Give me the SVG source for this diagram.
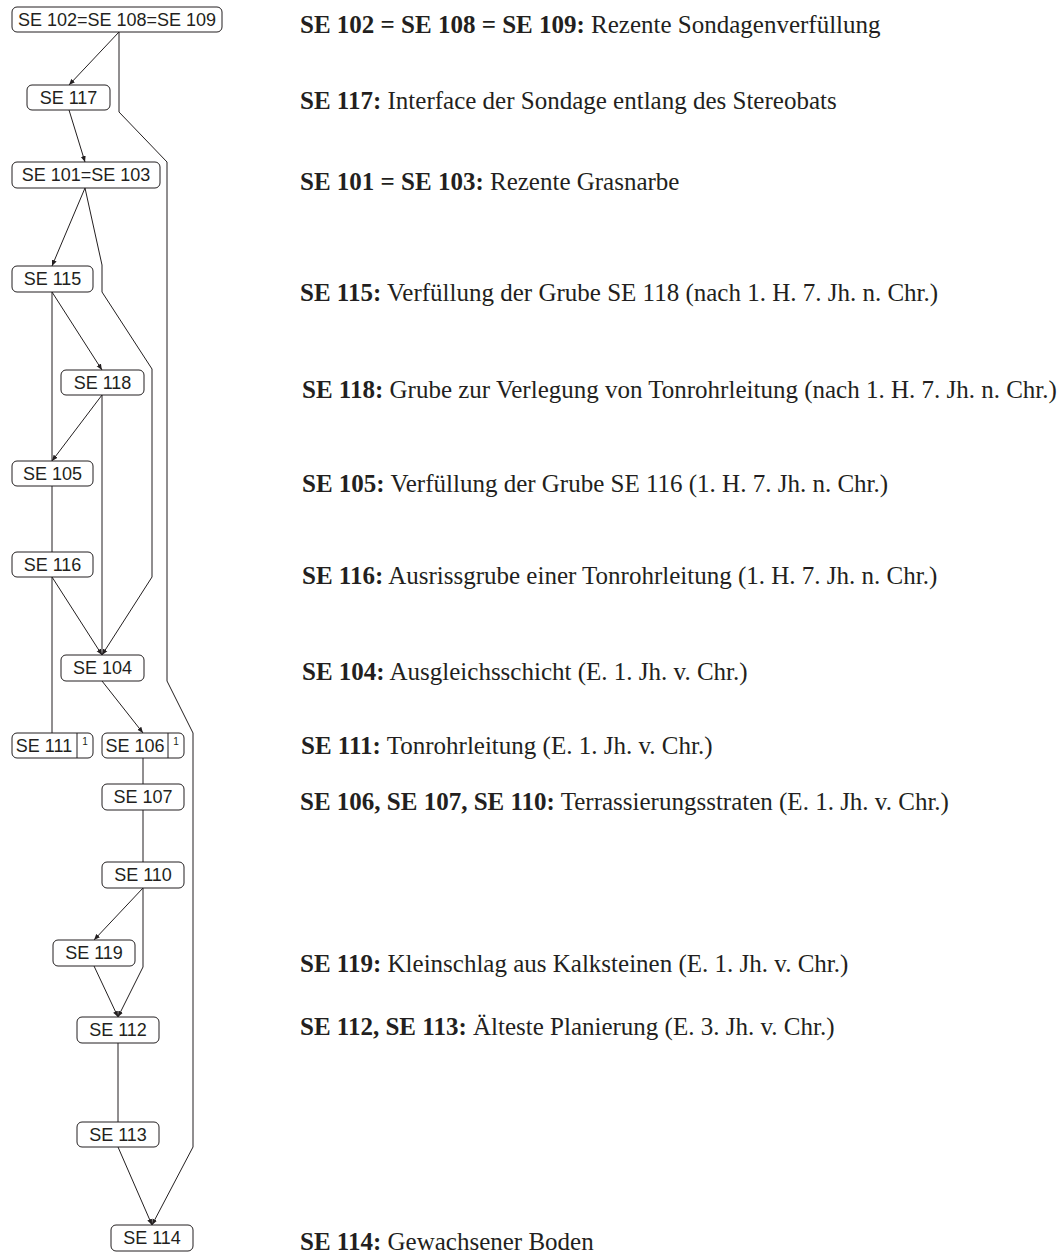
<svg xmlns="http://www.w3.org/2000/svg" width="1061" height="1254" viewBox="0 0 1061 1254">
<style>
.box{fill:#fff;stroke:#231f20;stroke-width:1}
.lbl{font-family:"Liberation Sans",Arial,sans-serif;font-size:18px;fill:#231f20;text-anchor:middle}
.sup{font-family:"Liberation Sans",Arial,sans-serif;font-size:10px;fill:#231f20;text-anchor:middle}
.div{stroke:#231f20;stroke-width:1}
.edge{fill:none;stroke:#231f20;stroke-width:1}
.desc{font-family:"Liberation Serif","Times New Roman",serif;font-size:25px;fill:#231f20}
.b{font-weight:bold}
</style>
<defs>
<marker id="arr" markerWidth="6" markerHeight="6" refX="6" refY="3" orient="auto" markerUnits="userSpaceOnUse">
<path d="M0,0.5 L6,3 L0,5.5 Z" fill="#231f20"/>
</marker>
</defs>
<g id="connectors">
<path class="edge" d="M119,32 L69,85" marker-end="url(#arr)"/>
<path class="edge" d="M119,32 L119,112 L167,162 L167,681 L193,733 L193,1147 L152,1225" marker-end="url(#arr)"/>
<path class="edge" d="M69,110 L85,162" marker-end="url(#arr)"/>
<path class="edge" d="M85,188 L52,266" marker-end="url(#arr)"/>
<path class="edge" d="M85,188 L102,265 L102,292 L152,369 L152,577 L102,655" marker-end="url(#arr)"/>
<path class="edge" d="M52,292 L52,461"/>
<path class="edge" d="M52,292 L102,370" marker-end="url(#arr)"/>
<path class="edge" d="M102,395 L52,461" marker-end="url(#arr)"/>
<path class="edge" d="M102,395 L102,655"/>
<path class="edge" d="M52,486 L52,552"/>
<path class="edge" d="M52,577 L102,655" marker-end="url(#arr)"/>
<path class="edge" d="M52,577 L52,733"/>
<path class="edge" d="M102,681 L143,733" marker-end="url(#arr)"/>
<path class="edge" d="M143,758 L143,784"/>
<path class="edge" d="M143,810 L143,862"/>
<path class="edge" d="M143,888 L94,940" marker-end="url(#arr)"/>
<path class="edge" d="M143,888 L143,967 L118,1017" marker-end="url(#arr)"/>
<path class="edge" d="M94,966 L118,1017" marker-end="url(#arr)"/>
<path class="edge" d="M118,1043 L118,1122"/>
<path class="edge" d="M118,1147 L152,1225" marker-end="url(#arr)"/>
</g>
<g id="n102"><rect class="box" x="12" y="7" width="210" height="25" rx="5"/><text class="lbl" x="117" y="26">SE 102=SE 108=SE 109</text></g>
<g id="n117"><rect class="box" x="27" y="85" width="83" height="25" rx="5"/><text class="lbl" x="68.5" y="104">SE 117</text></g>
<g id="n101"><rect class="box" x="12" y="162" width="148" height="26" rx="5"/><text class="lbl" x="86" y="181">SE 101=SE 103</text></g>
<g id="n115"><rect class="box" x="12" y="266" width="81" height="26" rx="5"/><text class="lbl" x="52.5" y="285">SE 115</text></g>
<g id="n118"><rect class="box" x="61" y="370" width="83" height="25" rx="5"/><text class="lbl" x="102.5" y="389">SE 118</text></g>
<g id="n105"><rect class="box" x="12" y="461" width="81" height="25" rx="5"/><text class="lbl" x="52.5" y="480">SE 105</text></g>
<g id="n116"><rect class="box" x="12" y="552" width="81" height="25" rx="5"/><text class="lbl" x="52.5" y="571">SE 116</text></g>
<g id="n104"><rect class="box" x="61" y="655" width="83" height="26" rx="5"/><text class="lbl" x="102.5" y="674">SE 104</text></g>
<g id="n111"><rect class="box" x="12" y="733" width="81" height="25" rx="5"/><line class="div" x1="77" y1="733" x2="77" y2="758"/><text class="lbl" x="44" y="752">SE 111</text><text class="sup" x="85" y="745">1</text></g>
<g id="n106"><rect class="box" x="102" y="733" width="82" height="25" rx="5"/><line class="div" x1="168" y1="733" x2="168" y2="758"/><text class="lbl" x="135" y="752">SE 106</text><text class="sup" x="176" y="745">1</text></g>
<g id="n107"><rect class="box" x="102" y="784" width="82" height="26" rx="5"/><text class="lbl" x="143" y="803">SE 107</text></g>
<g id="n110"><rect class="box" x="102" y="862" width="82" height="26" rx="5"/><text class="lbl" x="143" y="881">SE 110</text></g>
<g id="n119"><rect class="box" x="53" y="940" width="82" height="26" rx="5"/><text class="lbl" x="94" y="959">SE 119</text></g>
<g id="n112"><rect class="box" x="77" y="1017" width="82" height="26" rx="5"/><text class="lbl" x="118" y="1036">SE 112</text></g>
<g id="n113"><rect class="box" x="77" y="1122" width="82" height="25" rx="5"/><text class="lbl" x="118" y="1141">SE 113</text></g>
<g id="n114"><rect class="box" x="111" y="1225" width="82" height="26" rx="5"/><text class="lbl" x="152" y="1244">SE 114</text></g>
<g id="legend">
<text class="desc" x="300" y="33"><tspan class="b">SE 102 = SE 108 = SE 109:</tspan> Rezente Sondagenverfüllung</text>
<text class="desc" x="300" y="109"><tspan class="b">SE 117:</tspan> Interface der Sondage entlang des Stereobats</text>
<text class="desc" x="300" y="190"><tspan class="b">SE 101 = SE 103:</tspan> Rezente Grasnarbe</text>
<text class="desc" x="300" y="301"><tspan class="b">SE 115:</tspan> Verfüllung der Grube SE 118 (nach 1. H. 7. Jh. n. Chr.)</text>
<text class="desc" x="302" y="398"><tspan class="b">SE 118:</tspan> Grube zur Verlegung von Tonrohrleitung (nach 1. H. 7. Jh. n. Chr.)</text>
<text class="desc" x="302" y="492"><tspan class="b">SE 105:</tspan> Verfüllung der Grube SE 116 (1. H. 7. Jh. n. Chr.)</text>
<text class="desc" x="302" y="584"><tspan class="b">SE 116:</tspan> Ausrissgrube einer Tonrohrleitung (1. H. 7. Jh. n. Chr.)</text>
<text class="desc" x="302" y="680"><tspan class="b">SE 104:</tspan> Ausgleichsschicht (E. 1. Jh. v. Chr.)</text>
<text class="desc" x="301" y="754"><tspan class="b">SE 111:</tspan> Tonrohrleitung (E. 1. Jh. v. Chr.)</text>
<text class="desc" x="300" y="810"><tspan class="b">SE 106, SE 107, SE 110:</tspan> Terrassierungsstraten (E. 1. Jh. v. Chr.)</text>
<text class="desc" x="300" y="972"><tspan class="b">SE 119:</tspan> Kleinschlag aus Kalksteinen (E. 1. Jh. v. Chr.)</text>
<text class="desc" x="300" y="1035"><tspan class="b">SE 112, SE 113:</tspan> Älteste Planierung (E. 3. Jh. v. Chr.)</text>
<text class="desc" x="300" y="1250"><tspan class="b">SE 114:</tspan> Gewachsener Boden</text>
</g>
</svg>
